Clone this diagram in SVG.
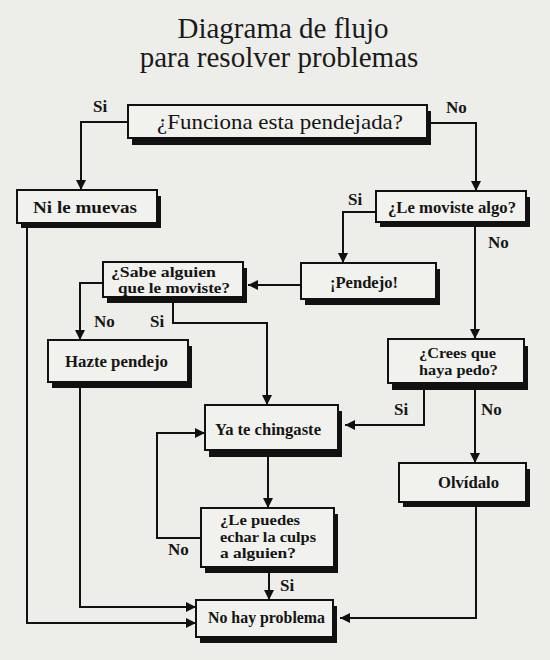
<svg xmlns="http://www.w3.org/2000/svg" width="550" height="660" viewBox="0 0 550 660">
<defs>
<marker id="ah" viewBox="0 0 10 10" refX="10" refY="5" markerWidth="10" markerHeight="10" markerUnits="userSpaceOnUse" orient="auto">
<path d="M0,0 L10,5 L0,10 Z" fill="#111"/>
</marker>
<style>
.bg{fill:#ededea}
.sh{fill:#111}
.bx{fill:#f1f1ee;stroke:#111;stroke-width:2}
.t{font-family:"Liberation Serif","Times New Roman",serif;fill:#151515;font-weight:bold;font-size:17px}
.t2{font-family:"Liberation Serif","Times New Roman",serif;fill:#151515;font-weight:bold;font-size:15px}
.title{font-family:"Liberation Serif","Times New Roman",serif;fill:#1a1a1a;font-size:29px;text-anchor:middle}
.big{font-family:"Liberation Serif","Times New Roman",serif;fill:#151515;font-size:22px}
.lb{font-family:"Liberation Serif","Times New Roman",serif;fill:#151515;font-weight:bold;font-size:17px}
.c{fill:none;stroke:#111;stroke-width:2;marker-end:url(#ah)}
</style>
</defs>
<rect class="bg" x="0" y="0" width="550" height="660"/>
<g id="title">
<text class="title" x="283" y="38">Diagrama de flujo</text>
<text class="title" x="279" y="67">para resolver problemas</text>
</g>
<g id="connectors">
<path class="c" d="M128,122 H81 V190"/>
<path class="c" d="M427,123 H476 V191"/>
<path class="c" d="M376,212 H343 V263"/>
<path class="c" d="M475,227 V339"/>
<path class="c" d="M301,285 H248"/>
<path class="c" d="M103,283 H80 V340"/>
<path class="c" d="M173,303 V323 H267 V405"/>
<path class="c" d="M424,390 V425 H345"/>
<path class="c" d="M475,390 V463"/>
<path class="c" d="M268,457 V508"/>
<path class="c" d="M201,538 H157 V433 H205"/>
<path class="c" d="M269,573 V600"/>
<path class="c" d="M27,228 V623 H196"/>
<path class="c" d="M80,388 V607 H196"/>
<path class="c" d="M476,507 V618 H340"/>
<text class="lb" x="93" y="112">Si</text>
<text class="lb" x="446" y="113">No</text>
<text class="lb" x="348" y="205">Si</text>
<text class="lb" x="488" y="248">No</text>
<text class="lb" x="94" y="327">No</text>
<text class="lb" x="150" y="327">Si</text>
<text class="lb" x="394" y="415">Si</text>
<text class="lb" x="481" y="415">No</text>
<text class="lb" x="168" y="555">No</text>
<text class="lb" x="280" y="591">Si</text>
</g>
<g id="n-funciona">
<rect class="sh" x="132" y="111" width="299" height="34"/>
<rect class="bx" x="128" y="105" width="299" height="33"/>
<text class="big" x="157" y="129" textLength="246" lengthAdjust="spacingAndGlyphs">¿Funciona esta pendejada?</text>
</g>
<g id="n-nilemuevas">
<rect class="sh" x="21" y="196" width="140" height="32"/>
<rect class="bx" x="17" y="190" width="140" height="33"/>
<text class="t" x="33" y="213" textLength="104" lengthAdjust="spacingAndGlyphs">Ni le muevas</text>
</g>
<g id="n-lemoviste">
<rect class="sh" x="380" y="197" width="150" height="30"/>
<rect class="bx" x="376" y="191" width="150" height="31"/>
<text class="t" x="388" y="213" textLength="128" lengthAdjust="spacingAndGlyphs">¿Le moviste algo?</text>
</g>
<g id="n-sabe">
<rect class="sh" x="107" y="268" width="140" height="35"/>
<rect class="bx" x="103" y="262" width="140" height="35"/>
<text class="t2" x="111" y="277" textLength="105" lengthAdjust="spacingAndGlyphs">¿Sabe alguien</text>
<text class="t2" x="118" y="293" textLength="112" lengthAdjust="spacingAndGlyphs">que le moviste?</text>
</g>
<g id="n-pendejo">
<rect class="sh" x="305" y="269" width="135" height="36"/>
<rect class="bx" x="301" y="263" width="135" height="36"/>
<text class="t" x="330" y="288" textLength="68" lengthAdjust="spacingAndGlyphs">¡Pendejo!</text>
</g>
<g id="n-hazte">
<rect class="sh" x="52" y="346" width="140" height="42"/>
<rect class="bx" x="48" y="340" width="140" height="42"/>
<text class="t" x="65" y="367" textLength="103" lengthAdjust="spacingAndGlyphs">Hazte pendejo</text>
</g>
<g id="n-crees">
<rect class="sh" x="392" y="346" width="136" height="44"/>
<rect class="bx" x="388" y="339" width="136" height="44"/>
<text class="t2" x="419" y="358" textLength="77" lengthAdjust="spacingAndGlyphs">¿Crees que</text>
<text class="t2" x="419" y="375" textLength="79" lengthAdjust="spacingAndGlyphs">haya pedo?</text>
</g>
<g id="n-yatechingaste">
<rect class="sh" x="209" y="411" width="133" height="46"/>
<rect class="bx" x="205" y="405" width="133" height="45"/>
<text class="t" x="215" y="435" textLength="106" lengthAdjust="spacingAndGlyphs">Ya te chingaste</text>
</g>
<g id="n-olvidalo">
<rect class="sh" x="403" y="469" width="127" height="38"/>
<rect class="bx" x="399" y="463" width="127" height="39"/>
<text class="t" x="438" y="488" textLength="61" lengthAdjust="spacingAndGlyphs">Olvídalo</text>
</g>
<g id="n-lepuedes">
<rect class="sh" x="205" y="514" width="133" height="59"/>
<rect class="bx" x="201" y="508" width="133" height="59"/>
<text class="t2" x="220" y="525" textLength="80" lengthAdjust="spacingAndGlyphs">¿Le puedes</text>
<text class="t2" x="220" y="542" textLength="96" lengthAdjust="spacingAndGlyphs">echar la culps</text>
<text class="t2" x="220" y="558" textLength="76" lengthAdjust="spacingAndGlyphs">a alguien?</text>
</g>
<g id="n-nohayproblema">
<rect class="sh" x="200" y="606" width="137" height="37"/>
<rect class="bx" x="196" y="600" width="137" height="37"/>
<text class="t" x="208" y="623" textLength="117" lengthAdjust="spacingAndGlyphs">No hay problema</text>
</g>
</svg>
